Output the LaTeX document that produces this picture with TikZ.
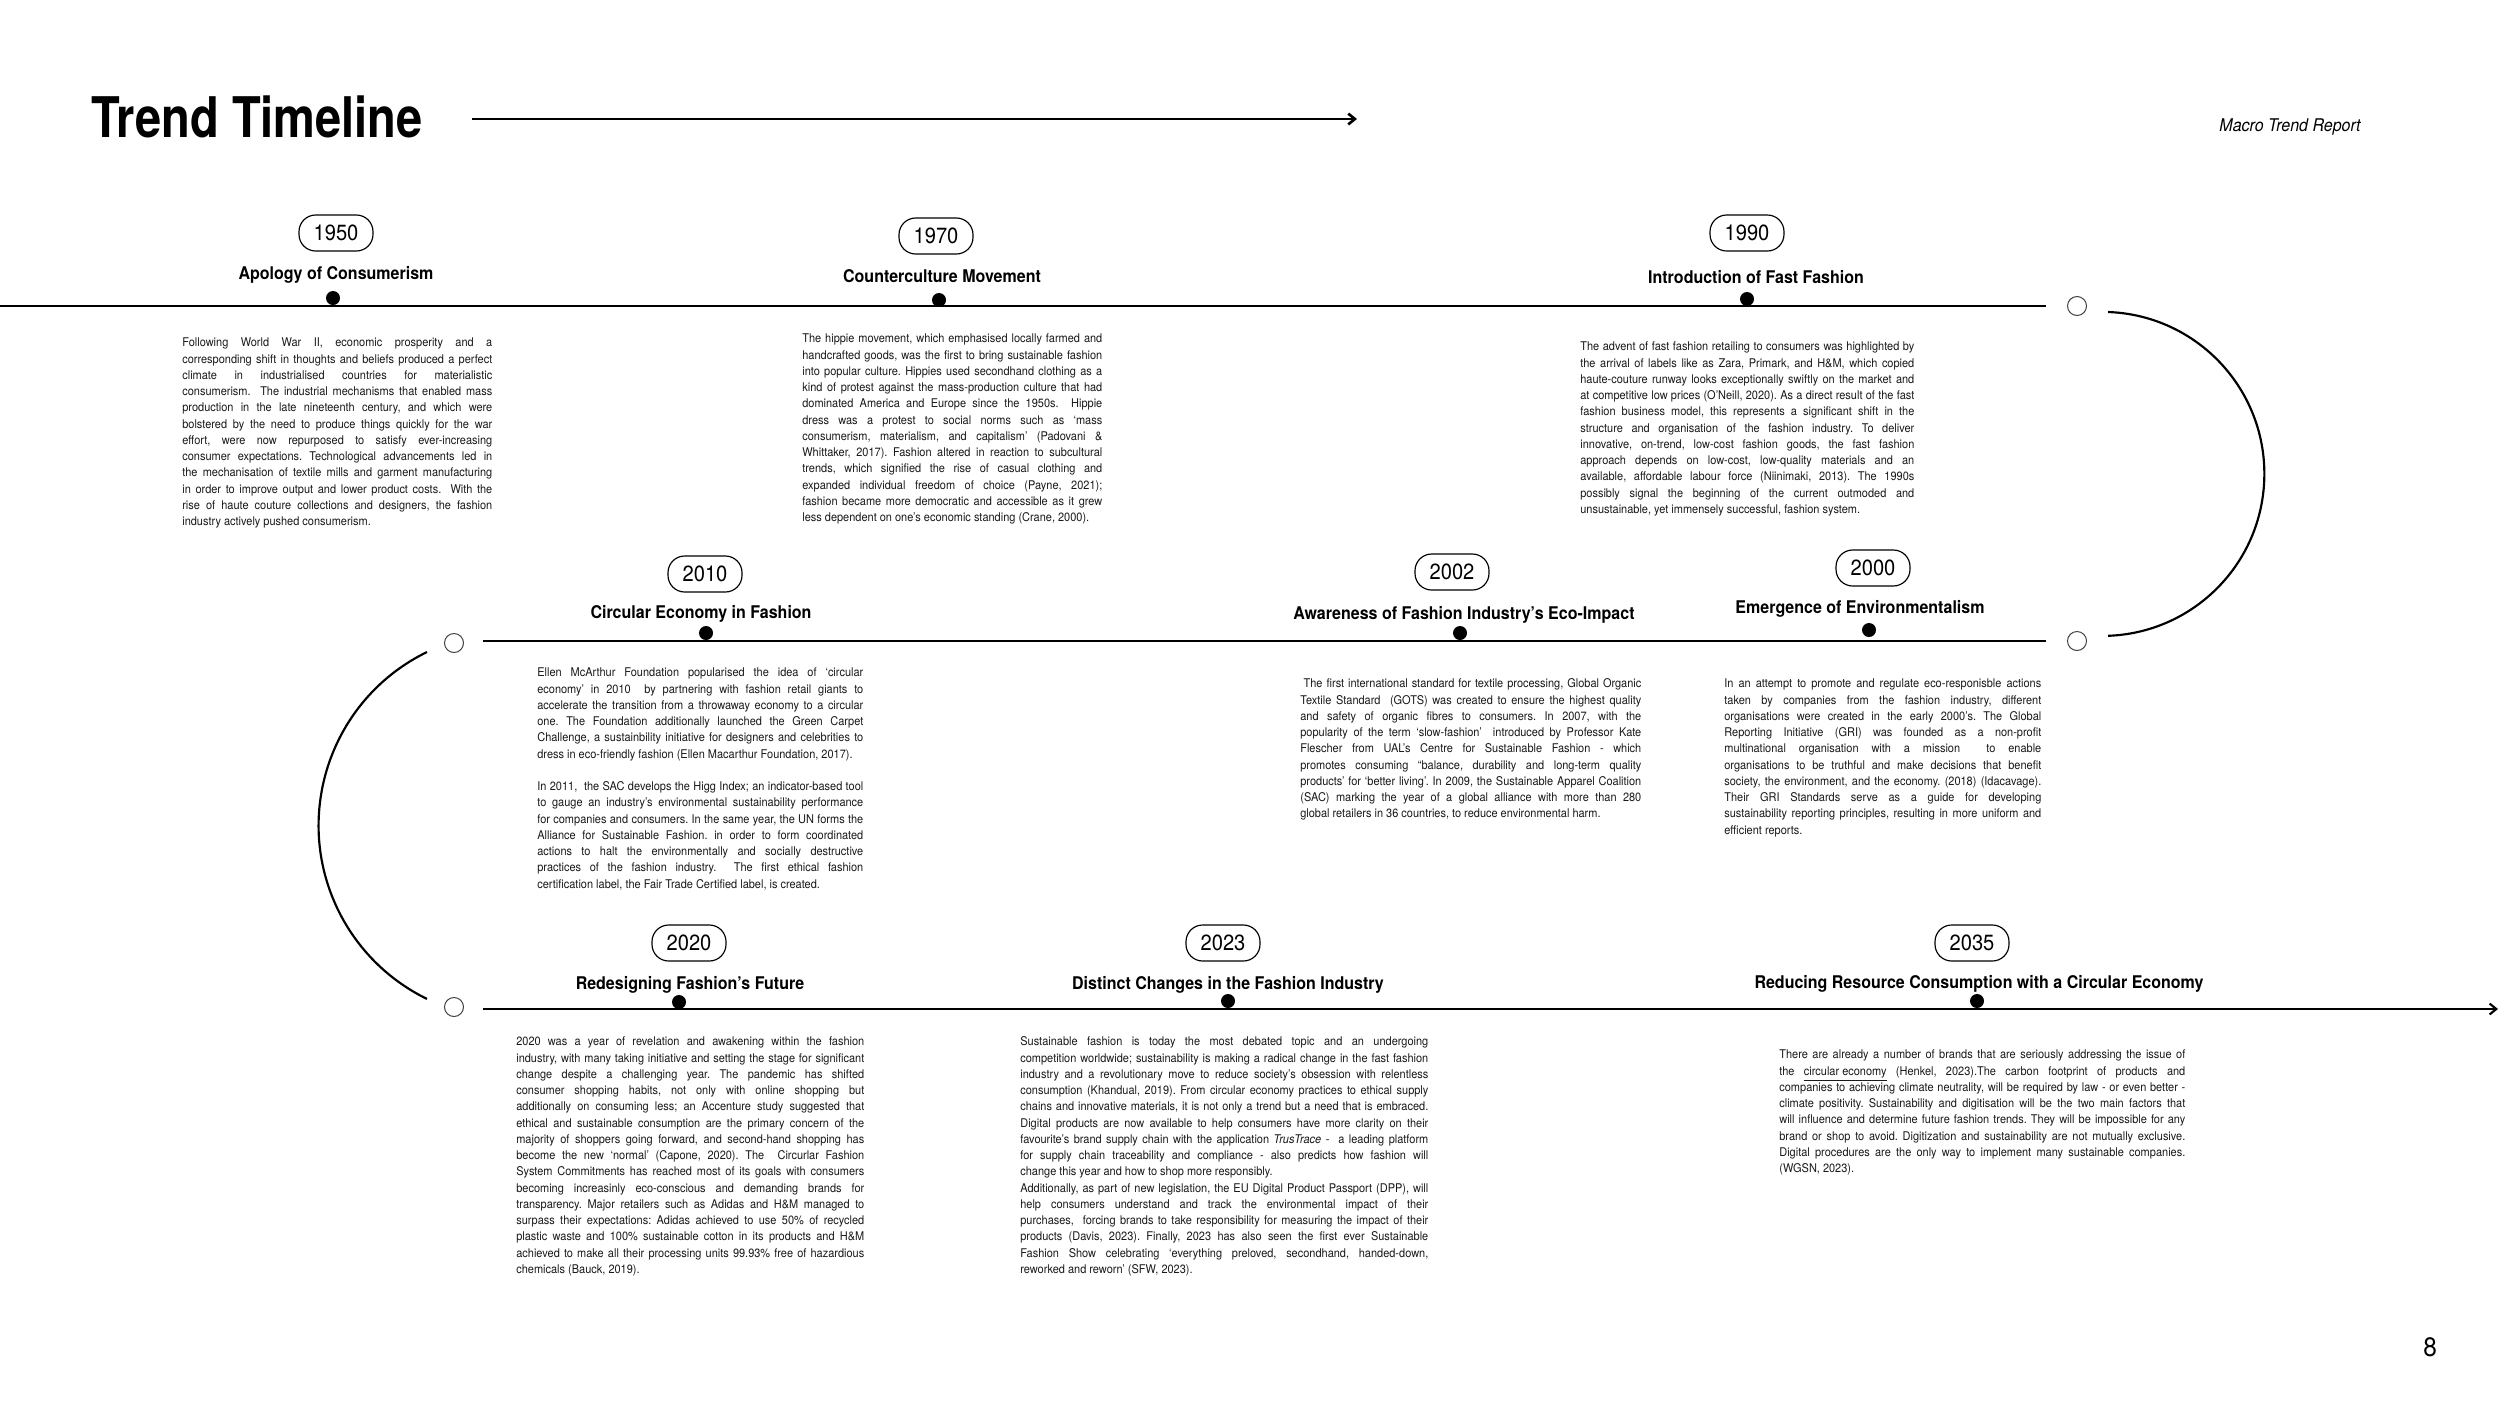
\documentclass[tikz,border=0pt]{standalone}
\usepackage{fontspec}
\setmainfont{TeX Gyre Heros}[FakeStretch=0.915]
\newfontfamily\titlefont{TeX Gyre Heros}[FakeStretch=0.84]
\usetikzlibrary{arrows.meta}
\newcommand\jline[1]{\hbox to\hsize{#1}}
\newcommand\lline[1]{\hbox{#1}}
\newcommand\tblock[2]{\vtop{\hsize=#1\relax\frenchspacing\fontsize{7.2pt}{9.75pt}\selectfont\color{black!90}#2}}
\tikzset{
  tl/.style={line width=1.3pt},
  dotm/.style={circle,fill=black,inner sep=0pt,minimum size=8.4pt},
  ocirc/.style={circle,draw=black!75,line width=0.6pt,inner sep=0pt,minimum size=11.4pt},
  pill/.style={draw,line width=0.7pt,rounded corners=10pt,minimum width=44.4pt,minimum height=21.6pt,inner sep=0pt,font=\fontsize{13.2pt}{14pt}\selectfont},
  head/.style={anchor=base,inner sep=0pt,font=\fontsize{10.5pt}{12pt}\selectfont\bfseries},
  body/.style={anchor=base west,inner sep=0pt},
  barb/.style={-{Straight Barb[length=4pt,width=6.5pt]}}
}
\begin{document}
\begin{tikzpicture}[x=0.6pt,y=-0.6pt]
\fill[white] (0,0) rectangle (2500,1406);
\useasboundingbox (0,0) rectangle (2500,1406);

% header
\node[anchor=base west,inner sep=0pt,font=\titlefont\bfseries\fontsize{33.6pt}{36pt}\selectfont] (title) at (91,137) {Trend Timeline};
\coordinate (ta1) at (472,119);
\coordinate (ta2) at (1357,119);
\draw[line width=1.6pt,barb] (ta1) -- (ta2);
\node[anchor=base east,inner sep=0pt,font=\fontsize{10.5pt}{12pt}\selectfont\itshape] (report) at (2361,131) {Macro Trend Report};
\node[inner sep=0pt,font=\fontsize{16pt}{18pt}\selectfont] (page) at (2430,1347) {8};

% timeline skeleton
\coordinate (r1s) at (0,306);
\coordinate (r1e) at (2046,306);
\coordinate (r2s) at (483,641);
\coordinate (r2e) at (2046,641);
\coordinate (r3s) at (483,1009);
\coordinate (r3e) at (2498,1009);
\node[ocirc] (c1) at (2077,306) {};
\node[ocirc] (c2) at (2077,641) {};
\node[ocirc] (c3) at (454,643) {};
\node[ocirc] (c4) at (454,1007) {};
\coordinate (ra) at (2108,312);
\coordinate (la) at (427,652);
\draw[tl] (r1s) -- (r1e);
\draw[tl] (r2s) -- (r2e);
\draw[tl,barb] (r3s) -- (r3e);
\draw[tl] (ra) arc[start angle=88,end angle=-88,radius=97.2pt];
\draw[tl] (la) arc[start angle=116,end angle=244,radius=115.8pt];

% pills
\node[pill] (p1950) at (336,233) {1950};
\node[pill] (p1970) at (936,236) {1970};
\node[pill] (p1990) at (1747,233) {1990};
\node[pill] (p2010) at (705,574) {2010};
\node[pill] (p2002) at (1452,572) {2002};
\node[pill] (p2000) at (1873,568) {2000};
\node[pill] (p2020) at (689,943) {2020};
\node[pill] (p2023) at (1223,943) {2023};
\node[pill] (p2035) at (1972,943) {2035};

% headings
\node[head] (h1950) at (336,279) {Apology of Consumerism};
\node[head] (h1970) at (942,282) {Counterculture Movement};
\node[head] (h1990) at (1756,283) {Introduction of Fast Fashion};
\node[head] (h2010) at (701,618) {Circular Economy in Fashion};
\node[head] (h2002) at (1464,619) {Awareness of Fashion Industry’s Eco-Impact};
\node[head] (h2000) at (1860,613) {Emergence of Environmentalism};
\node[head] (h2020) at (690,989) {Redesigning Fashion’s Future};
\node[head] (h2023) at (1228,989) {Distinct Changes in the Fashion Industry};
\node[head] (h2035) at (1979,988) {Reducing Resource Consumption with a Circular Economy};

% dots
\node[dotm] (d1950) at (333,298) {};
\node[dotm] (d1970) at (939,300) {};
\node[dotm] (d1990) at (1747,299) {};
\node[dotm] (d2010) at (706,633) {};
\node[dotm] (d2002) at (1460,633) {};
\node[dotm] (d2000) at (1869,630) {};
\node[dotm] (d2020) at (679,1002) {};
\node[dotm] (d2023) at (1228,1001) {};
\node[dotm] (d2035) at (1977,1001) {};

% text blocks
\node[body] (t1950) at (182,338) {\tblock{186pt}{%
\jline{Following World War II, economic prosperity and a}
\jline{corresponding shift in thoughts and beliefs produced a perfect}
\jline{climate in industrialised countries for materialistic}
\jline{consumerism. \ The industrial mechanisms that enabled mass}
\jline{production in the late nineteenth century, and which were}
\jline{bolstered by the need to produce things quickly for the war}
\jline{effort, were now repurposed to satisfy ever-increasing}
\jline{consumer expectations. Technological advancements led in}
\jline{the mechanisation of textile mills and garment manufacturing}
\jline{in order to improve output and lower product costs. \ With the}
\jline{rise of haute couture collections and designers, the fashion}
\lline{industry actively pushed consumerism.}}};

\node[body] (t1970) at (802,334) {\tblock{180pt}{%
\jline{The hippie movement, which emphasised locally farmed and}
\jline{handcrafted goods, was the first to bring sustainable fashion}
\jline{into popular culture. Hippies used secondhand clothing as a}
\jline{kind of protest against the mass-production culture that had}
\jline{dominated America and Europe since the 1950s. \ Hippie}
\jline{dress was a protest to social norms such as ‘mass}
\jline{consumerism, materialism, and capitalism’ (Padovani \&}
\jline{Whittaker, 2017). Fashion altered in reaction to subcultural}
\jline{trends, which signified the rise of casual clothing and}
\jline{expanded individual freedom of choice (Payne, 2021);}
\jline{fashion became more democratic and accessible as it grew}
\lline{less dependent on one’s economic standing (Crane, 2000).}}};

\node[body] (t1990) at (1580,342) {\tblock{200.4pt}{%
\jline{The advent of fast fashion retailing to consumers was highlighted by}
\jline{the arrival of labels like as Zara, Primark, and H\&M, which copied}
\jline{haute-couture runway looks exceptionally swiftly on the market and}
\jline{at competitive low prices (O’Neill, 2020). As a direct result of the fast}
\jline{fashion business model, this represents a significant shift in the}
\jline{structure and organisation of the fashion industry. To deliver}
\jline{innovative, on-trend, low-cost fashion goods, the fast fashion}
\jline{approach depends on low-cost, low-quality materials and an}
\jline{available, affordable labour force (Niinimaki, 2013). The 1990s}
\jline{possibly signal the beginning of the current outmoded and}
\lline{unsustainable, yet immensely successful, fashion system.}}};

\node[body] (t2010) at (537,668) {\tblock{195.6pt}{%
\jline{Ellen McArthur Foundation popularised the idea of ‘circular}
\jline{economy’ in 2010 \ by partnering with fashion retail giants to}
\jline{accelerate the transition from a throwaway economy to a circular}
\jline{one. The Foundation additionally launched the Green Carpet}
\jline{Challenge, a sustainbility initiative for designers and celebrities to}
\lline{dress in eco-friendly fashion (Ellen Macarthur Foundation, 2017).}
\hbox{}
\jline{In 2011, \ the SAC develops the Higg Index; an indicator-based tool}
\jline{to gauge an industry’s environmental sustainability performance}
\jline{for companies and consumers. In the same year, the UN forms the}
\jline{Alliance for Sustainable Fashion. in order to form coordinated}
\jline{actions to halt the environmentally and socially destructive}
\jline{practices of the fashion industry. \ The first ethical fashion}
\lline{certification label, the Fair Trade Certified label, is created.}}};

\node[body] (t2002) at (1300,679) {\tblock{204.6pt}{%
\jline{\hspace{2pt}The first international standard for textile processing, Global Organic}
\jline{Textile Standard \ (GOTS) was created to ensure the highest quality}
\jline{and safety of organic fibres to consumers. In 2007, with the}
\jline{popularity of the term ‘slow-fashion’ \ introduced by Professor Kate}
\jline{Flescher from UAL’s Centre for Sustainable Fashion - which}
\jline{promotes consuming “balance, durability and long-term quality}
\jline{products’ for ‘better living’. In 2009, the Sustainable Apparel Coalition}
\jline{(SAC) marking the year of a global alliance with more than 280}
\lline{global retailers in 36 countries, to reduce environmental harm.}}};

\node[body] (t2000) at (1724,679) {\tblock{190.2pt}{%
\jline{In an attempt to promote and regulate eco-responisble actions}
\jline{taken by companies from the fashion industry, different}
\jline{organisations were created in the early 2000’s. The Global}
\jline{Reporting Initiative (GRI) was founded as a non-profit}
\jline{multinational organisation with a mission\hspace{8pt} to enable}
\jline{organisations to be truthful and make decisions that benefit}
\jline{society, the environment, and the economy. (2018) (Idacavage).}
\jline{Their GRI Standards serve as a guide for developing}
\jline{sustainability reporting principles, resulting in more uniform and}
\lline{efficient reports.}}};

\node[body] (t2020) at (516,1037) {\tblock{208.8pt}{%
\jline{2020 was a year of revelation and awakening within the fashion}
\jline{industry, with many taking initiative and setting the stage for significant}
\jline{change despite a challenging year. The pandemic has shifted}
\jline{consumer shopping habits, not only with online shopping but}
\jline{additionally on consuming less; an Accenture study suggested that}
\jline{ethical and sustainable consumption are the primary concern of the}
\jline{majority of shoppers going forward, and second-hand shopping has}
\jline{become the new ‘normal’ (Capone, 2020). The \ Circurlar Fashion}
\jline{System Commitments has reached most of its goals with consumers}
\jline{becoming increasinly eco-conscious and demanding brands for}
\jline{transparency. Major retailers such as Adidas and H\&M managed to}
\jline{surpass their expectations: Adidas achieved to use 50\% of recycled}
\jline{plastic waste and 100\% sustainable cotton in its products and H\&M}
\jline{achieved to make all their processing units 99.93\% free of hazardious}
\lline{chemicals (Bauck, 2019).}}};

\node[body] (t2023) at (1020,1037) {\tblock{244.8pt}{%
\jline{Sustainable fashion is today the most debated topic and an undergoing}
\jline{competition worldwide; sustainability is making a radical change in the fast fashion}
\jline{industry and a revolutionary move to reduce society’s obsession with relentless}
\jline{consumption (Khandual, 2019). From circular economy practices to ethical supply}
\jline{chains and innovative materials, it is not only a trend but a need that is embraced.}
\jline{Digital products are now available to help consumers have more clarity on their}
\jline{favourite’s brand supply chain with the application \textit{TrusTrace} - \ a leading platform}
\jline{for supply chain traceability and compliance - also predicts how fashion will}
\lline{change this year and how to shop more responsibly.}
\jline{Additionally, as part of new legislation, the EU Digital Product Passport (DPP), will}
\jline{help consumers understand and track the environmental impact of their}
\jline{purchases, \ forcing brands to take responsibility for measuring the impact of their}
\jline{products (Davis, 2023). Finally, 2023 has also seen the first ever Sustainable}
\jline{Fashion Show celebrating ‘everything preloved, secondhand, handed-down,}
\lline{reworked and reworn’ (SFW, 2023).}}};

\node[body] (t2035) at (1779,1050) {\tblock{243.6pt}{%
\jline{There are already a number of brands that are seriously addressing the issue of}
\jline{the \underline{circular economy} (Henkel, 2023).The carbon footprint of products and}
\jline{companies to achieving climate neutrality, will be required by law - or even better -}
\jline{climate positivity. Sustainability and digitisation will be the two main factors that}
\jline{will influence and determine future fashion trends. They will be impossible for any}
\jline{brand or shop to avoid. Digitization and sustainability are not mutually exclusive.}
\jline{Digital procedures are the only way to implement many sustainable companies.}
\lline{(WGSN, 2023).}}};
\end{tikzpicture}
\end{document}
